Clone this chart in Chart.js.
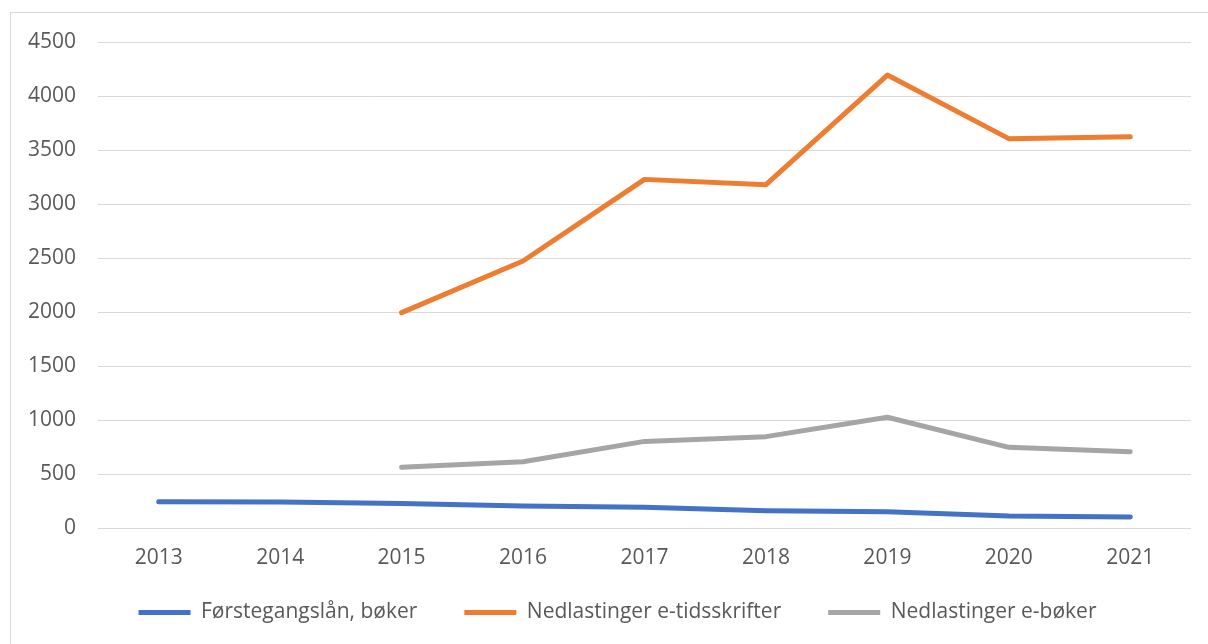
<!DOCTYPE html>
<html>
<head>
<meta charset="utf-8">
<script src="https://cdn.jsdelivr.net/npm/chart.js@4"></script>
<style>
    html, body { margin: 0; padding: 0; background: #fff; overflow: hidden; }
    #frame {
        position: absolute;
        left: 10px;
        top: 12px;
        width: 1210px;
        height: 640px;
        border: 1px solid #d9d9d9;
    }
    #wrap { position: absolute; left: 0; top: 0; width: 1197px; height: 631px; }
</style>
</head>
<body>
<div id="frame">
    <div id="wrap"><canvas id="lineChart"></canvas></div>
</div>
<script>
    "use strict";

    // Years on the x axis
    const years = ["2013", "2014", "2015", "2016", "2017", "2018", "2019", "2020", "2021"];

    // Series values
    const forstegangslan = [244, 241, 228, 204, 191, 160, 151, 111, 102];
    const eTidsskrifter = [null, null, 1994, 2472, 3228, 3179, 4194, 3605, 3623];
    const eBoker = [null, null, 562, 614, 802, 846, 1025, 747, 707];

    // Y axis ticks
    const yMin = 0;
    const yMax = 4500;
    const yStep = 500;

    const font = { family: "'Open Sans', sans-serif", size: 21 };

    function lineSet(label, data, color) {
        return {
            label: label,
            data: data,
            borderColor: color,
            backgroundColor: color,
            borderWidth: 5,
            borderCapStyle: "round",
            borderJoinStyle: "round",
            pointRadius: 0,
            pointHoverRadius: 0,
            pointStyle: "line",
            tension: 0,
            fill: false,
            spanGaps: false,
        };
    }

    // labels.padding is used above the legend items as well as between them,
    // so move the legend up under the axis and centre it on the whole frame
    const legendPlacement = {
        id: "legendPlacement",
        afterLayout: function (chart) {
            let legend = chart.legend;
            legend.top = chart.chartArea.bottom + 27;
            legend.bottom = chart.height;
            legend.left += 33;
        },
    };

    let ctx = document.getElementById("lineChart").getContext("2d");
    window.lineChart = new Chart(ctx, {
        type: "line",
        data: {
            labels: years,
            datasets: [
                lineSet("Førstegangslån, bøker", forstegangslan, "#4472C4"),
                lineSet("Nedlastinger e-tidsskrifter", eTidsskrifter, "#ED7D31"),
                lineSet("Nedlastinger e-bøker", eBoker, "#A5A5A5"),
            ],
        },
        options: {
            responsive: true,
            maintainAspectRatio: false,
            animation: false,
            layout: {
                padding: { left: 0, right: 17, top: 29, bottom: 0 },
            },
            plugins: {
                tooltip: { enabled: false },
                legend: {
                    position: "bottom",
                    maxHeight: 60,
                    labels: {
                        usePointStyle: true,
                        pointStyleWidth: 52,
                        padding: 47,
                        color: "#595959",
                        font: font,
                    },
                },
            },
            scales: {
                x: {
                    offset: true,
                    grid: { display: false, drawTicks: false },
                    border: { display: false },
                    ticks: { color: "#595959", font: font, padding: 17, maxRotation: 0 },
                    afterFit: function (scale) {
                        scale.height = 56;
                    },
                },
                y: {
                    min: yMin,
                    max: yMax,
                    grid: { color: "#d9d9d9", lineWidth: 1, drawTicks: false },
                    border: { display: false },
                    ticks: {
                        stepSize: yStep,
                        color: "#595959",
                        font: font,
                        padding: 22,
                        callback: function (value) {
                            return String(value);
                        },
                    },
                    afterFit: function (scale) {
                        scale.width = 87;
                        scale.paddingTop = 0;
                        scale.paddingBottom = 0;
                    },
                },
            },
        },
        plugins: [legendPlacement],
    });
</script>
</body>
</html>
